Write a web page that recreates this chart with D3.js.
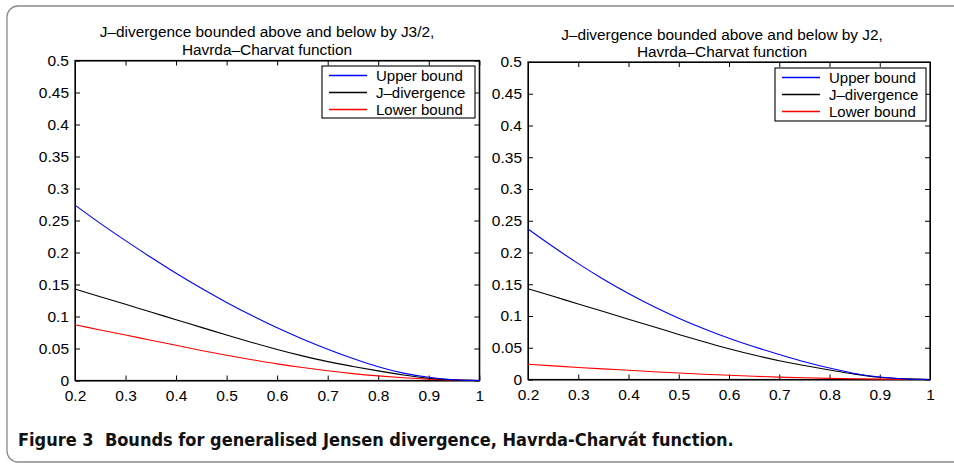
<!DOCTYPE html>
<html><head><meta charset="utf-8">
<script src="https://cdn.jsdelivr.net/npm/d3@7"></script>
<style>
html,body{margin:0;padding:0;background:#fff;}
svg{display:block;}
text{font-family:"Liberation Sans",Arial,Helvetica,sans-serif;}
</style></head>
<body>
<svg id="chart" width="954" height="465"></svg>
<script>
// ---- data ----
const xValues = [0.2,0.25,0.3,0.35,0.4,0.45,0.5,0.55,0.6,0.65,0.7,0.75,0.8,0.85,0.9,0.95,1.0];
const jDivergence = [0.143,0.131,0.119,0.107,0.095,0.083,0.071,0.0595,0.0485,0.0385,0.0295,0.022,0.015,0.0085,0.0035,0.001,0];
const upperLeft = [0.274,0.2455,0.2185,0.1925,0.1675,0.144,0.122,0.1015,0.0825,0.065,0.049,0.0345,0.0215,0.0115,0.005,0.0012,0];
const lowerLeft = [0.087,0.079,0.071,0.063,0.055,0.047,0.0395,0.0325,0.026,0.0203,0.0152,0.0108,0.0072,0.0043,0.0021,0.0007,0];
const upperRight = [0.237,0.209,0.1825,0.158,0.1355,0.115,0.0965,0.08,0.065,0.0515,0.0395,0.028,0.018,0.0095,0.004,0.0011,0];
const lowerRight = [0.024,0.0215,0.019,0.0167,0.0145,0.0123,0.0102,0.0083,0.0066,0.0051,0.0038,0.0027,0.0018,0.0011,0.0006,0.0002,0];
const xTicks = [0.2,0.3,0.4,0.5,0.6,0.7,0.8,0.9,1];
const yTicks = [0,0.05,0.1,0.15,0.2,0.25,0.3,0.35,0.4,0.45,0.5];
const legendLabels = ["Upper bound","J\u2013divergence","Lower bound"];
const titlesLeft = ["J\u2013divergence bounded above and below by J3/2,","Havrda\u2013Charvat function"];
const titlesRight = ["J\u2013divergence bounded above and below by J2,","Havrda\u2013Charvat function"];
const caption = "Figure 3  Bounds for generalised Jensen divergence, Havrda-Charv\u00e1t function.";

const svg = d3.select("#chart");

// outer rounded frame
svg.append("rect").attr("x",7).attr("y",6).attr("width",970).attr("height",456)
  .attr("rx",11).attr("fill","none").attr("stroke","#8a8a8a").attr("stroke-width",1.3);

const colors = ["#0000ff","#000000","#ff0000"];

function panel(cfg){
  const w = cfg.right-cfg.left, h = cfg.bottom-cfg.top;
  const g = svg.append("g").attr("transform",`translate(${cfg.left},${cfg.top})`);
  const x = d3.scaleLinear().domain([0.2,1]).range([0,w]);
  const y = d3.scaleLinear().domain([0,0.5]).range([h,0]);
  const fmt = d => d3.format("")(+d.toFixed(2));

  const ax = [
    g.append("g").call(d3.axisLeft(y).tickValues(yTicks).tickSizeInner(-5).tickSizeOuter(0).tickPadding(6).tickFormat(fmt)),
    g.append("g").attr("transform",`translate(0,${h})`).call(d3.axisBottom(x).tickValues(xTicks).tickSizeInner(-5).tickSizeOuter(0).tickPadding(9).tickFormat(fmt)),
    g.append("g").call(d3.axisTop(x).tickValues(xTicks).tickSizeInner(-5).tickSizeOuter(0).tickFormat("")),
    g.append("g").attr("transform",`translate(${w},0)`).call(d3.axisRight(y).tickValues(yTicks).tickSizeInner(-5).tickSizeOuter(0).tickFormat(""))
  ];
  ax.forEach(a=>{
    a.selectAll("path,line").attr("stroke","#000").attr("stroke-width",1);
    a.selectAll("text").attr("font-size",15.5).attr("fill","#000").style("font-family",'"Liberation Sans",Arial,sans-serif');
  });
  g.append("rect").attr("width",w).attr("height",h).attr("fill","none").attr("stroke","#000").attr("stroke-width",1.2);

  const line = d3.line().x((d,i)=>x(xValues[i])).y(d=>y(d)).curve(d3.curveMonotoneX);
  const series = [cfg.upper, jDivergence, cfg.lower];
  [2,1,0].forEach(i=>{
    g.append("path").datum(series[i]).attr("d",line).attr("fill","none")
      .attr("stroke",colors[i]).attr("stroke-width",1.1);
  });

  // legend
  const lg = svg.append("g").attr("transform",`translate(${cfg.legX},${cfg.legY})`);
  lg.append("rect").attr("width",cfg.legW).attr("height",cfg.legH).attr("fill","#fff").attr("stroke","#000").attr("stroke-width",1.1);
  legendLabels.forEach((t,i)=>{
    const yy = 9.5 + i*17;
    lg.append("line").attr("x1",7).attr("x2",45).attr("y1",yy).attr("y2",yy)
      .style("stroke",colors[i]).attr("stroke-width",1.4);
    lg.append("text").attr("x",54).attr("y",yy+5.3).attr("font-size",15).text(t);
  });

  // title
  cfg.titles.forEach((t,i)=>{
    svg.append("text").attr("x",cfg.titleX).attr("y",cfg.titleY+i*17.5).attr("text-anchor","middle")
      .attr("font-size",15.4).text(t);
  });
}

panel({left:75,right:479.3,top:60.5,bottom:380.5,upper:upperLeft,lower:lowerLeft,
  legX:322,legY:66,legW:153,legH:52,titles:titlesLeft,titleX:267,titleY:37});
panel({left:528,right:930,top:62,bottom:379.5,upper:upperRight,lower:lowerRight,
  legX:775,legY:68,legW:151,legH:53,titles:titlesRight,titleX:722,titleY:39.5});

svg.append("text").attr("x",18).attr("y",446).attr("font-size",18).attr("font-weight","bold")
  .style("font-family",'"DejaVu Sans Condensed","Open Sans",sans-serif').style("white-space","pre")
  .attr("fill","#111").text(caption);
</script>
</body></html>
